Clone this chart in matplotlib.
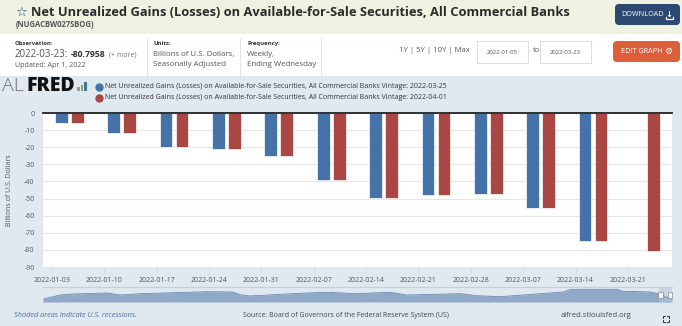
import datetime as dt

import numpy as np
import matplotlib.pyplot as plt
import matplotlib.dates as mdates
from matplotlib.patches import Rectangle, FancyBboxPatch

plt.rcParams['font.family'] = ['Open Sans', 'DejaVu Sans']

# Weekly observations (ending Wednesday), billions of U.S. dollars
obs_dates = ['2022-01-05', '2022-01-12', '2022-01-19', '2022-01-26',
             '2022-02-02', '2022-02-09', '2022-02-16', '2022-02-23',
             '2022-03-02', '2022-03-09', '2022-03-16', '2022-03-23']
vintage_0325 = [-5.6, -11.7, -19.7, -21.0, -25.1, -39.1, -49.5, -47.7,
                -47.3, -55.3, -74.6]
vintage_0401 = [-5.6, -11.7, -19.7, -21.0, -25.1, -39.1, -49.5, -47.7,
                -47.3, -55.3, -74.6, -80.7958]
series_name = ('Net Unrealized Gains (Losses) on Available-for-Sale '
               'Securities, All Commercial Banks')
vintage_labels = ['Vintage: 2022-03-25', 'Vintage: 2022-04-01']
tick_dates = ['2022-01-03', '2022-01-10', '2022-01-17', '2022-01-24',
              '2022-01-31', '2022-02-07', '2022-02-14', '2022-02-21',
              '2022-02-28', '2022-03-07', '2022-03-14', '2022-03-21']
y_ticks = [0, -10, -20, -30, -40, -50, -60, -70, -80, -90]

# full history shown in the navigator strip
nav_year = [2009.31, 2009.66, 2009.92, 2010.61, 2010.87, 2011.28, 2011.95,
            2012.64, 2013.16, 2013.31, 2013.51, 2013.98, 2014.67, 2015.07,
            2015.68, 2016.35, 2016.69, 2017.22, 2017.77, 2018.11, 2018.58,
            2019.13, 2019.86, 2020.00, 2020.26, 2020.95, 2021.07, 2021.62,
            2021.83, 2021.97, 2022.07]
nav_level = [-98, -20, 0, 20, -20, 6, 25, 45, 39, -14, -39, -14, 20, 33, 6,
             33, -20, -6, 6, -33, -53, -14, 39, 84, 92, 92, 53, 39, 0, -72,
             -81]
nav_years = [2010, 2012, 2014, 2016, 2018, 2020]

BLUE = '#4572a7'
RED = '#aa4643'
PAGE = '#e1e9f0'
GREY = '#555555'

W, H = 682, 326
fig = plt.figure(figsize=(W / 100, H / 100), dpi=100)


def rect(x0, y0, x1, y1):
    # pixel box (top-left origin) -> figure fraction rect
    return [x0 / W, 1 - y1 / H, (x1 - x0) / W, (y1 - y0) / H]


# page background, drawn in pixel coordinates
bg = fig.add_axes([0, 0, 1, 1])
bg.set_xlim(0, W)
bg.set_ylim(H, 0)
bg.axis('off')
bg.add_patch(Rectangle((0, 0), W, 34, color='#eff1e1', lw=0))
bg.add_patch(Rectangle((0, 34), W, 42, color='white', lw=0))
bg.add_patch(Rectangle((0, 76), W, H - 76, color=PAGE, lw=0))

# header
bg.text(15, 12.5, '\u2606', fontsize=9.5, color='#2c4a73', va='center',
        family=['DejaVu Sans'])
bg.text(31, 12, series_name, fontsize=9.3, fontweight='bold', color='#2b2b2b',
        va='center')
bg.text(16, 24.5, '(NUGACBW027SBOG)', fontsize=5.5, fontweight='bold',
        color='#555555', va='center')

bg.add_patch(FancyBboxPatch((615, 4), 65, 21, boxstyle='round,pad=0,rounding_size=4',
                            color='#2c4770', lw=0))
bg.text(643, 14.8, 'DOWNLOAD', fontsize=5.2, color='white',
        ha='center', va='center')
bg.text(669, 14.5, '\u2193', fontsize=6, color='white', fontweight='bold',
        ha='center', va='center', family=['DejaVu Sans'])
bg.plot([665.5, 665.5, 672.5, 672.5], [16.5, 18.5, 18.5, 16.5], color='white', lw=0.9)
bg.add_patch(FancyBboxPatch((613, 41), 67, 21, boxstyle='round,pad=0,rounding_size=4',
                            color='#dc5f3c', lw=0))
bg.text(641.5, 51.5, 'EDIT GRAPH', fontsize=5.2, color='white',
        ha='center', va='center')
bg.text(668.5, 51.2, '\u2699', fontsize=6.5, color='white',
        ha='center', va='center', family=['DejaVu Sans'])

# observation / units / frequency blocks
for xs in (147, 240, 321):
    bg.plot([xs, xs], [38, 76], color='#e4e4e4', lw=0.7)
bg.text(15, 43.5, 'Observation:', fontsize=4.3, fontweight='bold', color='#333333', va='center')
bg.text(15, 54.5, '2022-03-23:', fontsize=7.0, color=GREY, va='center')
bg.text(71, 54.3, '-80.7958', fontsize=6.2, fontweight='bold', color='#333333', va='center')
bg.text(109, 54.5, '(+ more)', fontsize=5.0, color='#777777', va='center')
bg.text(15, 65.5, 'Updated: Apr 1, 2022', fontsize=5.1, color=GREY, va='center')
bg.text(153, 43.5, 'Units:', fontsize=4.3, fontweight='bold', color='#333333', va='center')
bg.text(153, 54.5, 'Billions of U.S. Dollars,', fontsize=5.7, color=GREY, va='center')
bg.text(153, 64.5, 'Seasonally Adjusted', fontsize=5.7, color=GREY, va='center')
bg.text(247, 43.5, 'Frequency:', fontsize=4.3, fontweight='bold', color='#333333', va='center')
bg.text(247, 54.5, 'Weekly,', fontsize=5.7, color=GREY, va='center')
bg.text(247, 64.5, 'Ending Wednesday', fontsize=5.7, color=GREY, va='center')

bg.text(399, 51, '1Y | 5Y | 10Y | Max', fontsize=5.5, color=GREY, va='center')
for x0, label in ((477, obs_dates[0]), (540, obs_dates[-1])):
    bg.add_patch(Rectangle((x0, 41), 51, 22, facecolor='white',
                           edgecolor='#d8d8d8', lw=0.6))
    bg.text(x0 + 25.5, 52, label, fontsize=4.3, color=GREY, ha='center', va='center')
bg.text(533, 51, 'to', fontsize=5.5, color=GREY, va='center')

# ALFRED logo
bg.text(2, 86, 'AL', fontsize=14, color='#707070', va='center', fontweight='light')
bg.text(26, 86, 'FRED', fontsize=14, color='#111111', va='center', fontweight='heavy')
for bx, bh, bc in ((77, 4, '#9a9a9a'), (80.5, 6, '#8ab04a'), (84, 9, '#4572a7')):
    bg.add_patch(Rectangle((bx, 91 - bh), 2.6, bh, color=bc, lw=0))

# legend
for ly, col, lab in ((87, BLUE, vintage_labels[0]), (97.5, RED, vintage_labels[1])):
    bg.plot(98.5, ly, 'o', ms=5, color=col)
    bg.text(105, ly, series_name + ' ' + lab, fontsize=5.05, color='#333333',
            va='center')

# footer
bg.text(14, 315.5, 'Shaded areas indicate U.S. recessions.', fontsize=5.3,
        style='italic', color='#4f6f9a', va='center')
bg.text(243, 315.5, 'Source: Board of Governors of the Federal Reserve System (US)',
        fontsize=5.05, color='#444444', va='center')
bg.text(561, 315.5, 'alfred.stlouisfed.org', fontsize=5.5, color='#444444',
        va='center')
for cx, cy, dx, dy in ((663, 316, 1, 1), (669, 316, -1, 1), (663, 322, 1, -1), (669, 322, -1, -1)):
    bg.plot([cx, cx, cx + 2 * dx], [cy + 2 * dy, cy, cy], color='#333333', lw=0.7)

# main chart
ax = fig.add_axes(rect(43, 113, 672, 267))
d_obs = np.array([mdates.date2num(dt.date.fromisoformat(d)) for d in obs_dates])
d_tick = [mdates.date2num(dt.date.fromisoformat(d)) for d in tick_dates]
shift, half, bw = 0.33, 1.07, 1.7
ax.bar(d_obs[:len(vintage_0325)] + shift - half, vintage_0325, width=bw,
       color=BLUE, edgecolor='white', lw=0.5, zorder=3)
ax.bar(d_obs + shift + half, vintage_0401, width=bw,
       color=RED, edgecolor='white', lw=0.5, zorder=3)
ax.set_xlim(d_tick[0] - 1.2, d_tick[-1] + 5.9)
ax.set_ylim(-90, 0)
ax.set_yticks(y_ticks)
ax.set_yticklabels([str(v) for v in y_ticks])
ax.set_xticks(d_tick)
ax.set_xticklabels(tick_dates)
ax.grid(axis='y', color='#e6e6e6', lw=0.8, zorder=0)
ax.axhline(0, color='#222222', lw=1.3, clip_on=False, zorder=4)
for s in ax.spines.values():
    s.set_visible(False)
ax.tick_params(axis='y', length=0, pad=6, labelsize=5, labelcolor=GREY)
ax.tick_params(axis='x', length=4, width=0.6, color='#ccd6eb', pad=3,
               labelsize=5, labelcolor=GREY)
ax.set_ylabel('Billions of U.S. Dollars', fontsize=5, color=GREY, labelpad=8)

# navigator strip
nav = fig.add_axes(rect(43, 287, 672, 302))
nav.set_facecolor(PAGE)
nav.fill_between(nav_year, nav_level, -156, color='#8fa8c8', lw=0)
nav.plot(nav_year, nav_level, color='#6a89b4', lw=0.6)
nav.set_xlim(2009.31, 2022.07)
nav.set_ylim(-156, 136)
nav.axhline(136, color='#c5d0db', lw=0.8, clip_on=False)
for yr in nav_years:
    nav.text(yr, -60, str(yr), fontsize=4.6, color='#a3b3c6', ha='center', va='center')
nav.axvspan(2021.80, 2022.07, color='#b4c7df', alpha=0.6, lw=0)
for hx in (2021.79, 2021.99):
    nav.add_patch(Rectangle((hx, -85), 0.09, 130, facecolor='#f4f4f4',
                            edgecolor='#8c8c8c', lw=0.5, clip_on=False, zorder=5))
nav.axis('off')

fig.savefig('out.png', dpi=100)
